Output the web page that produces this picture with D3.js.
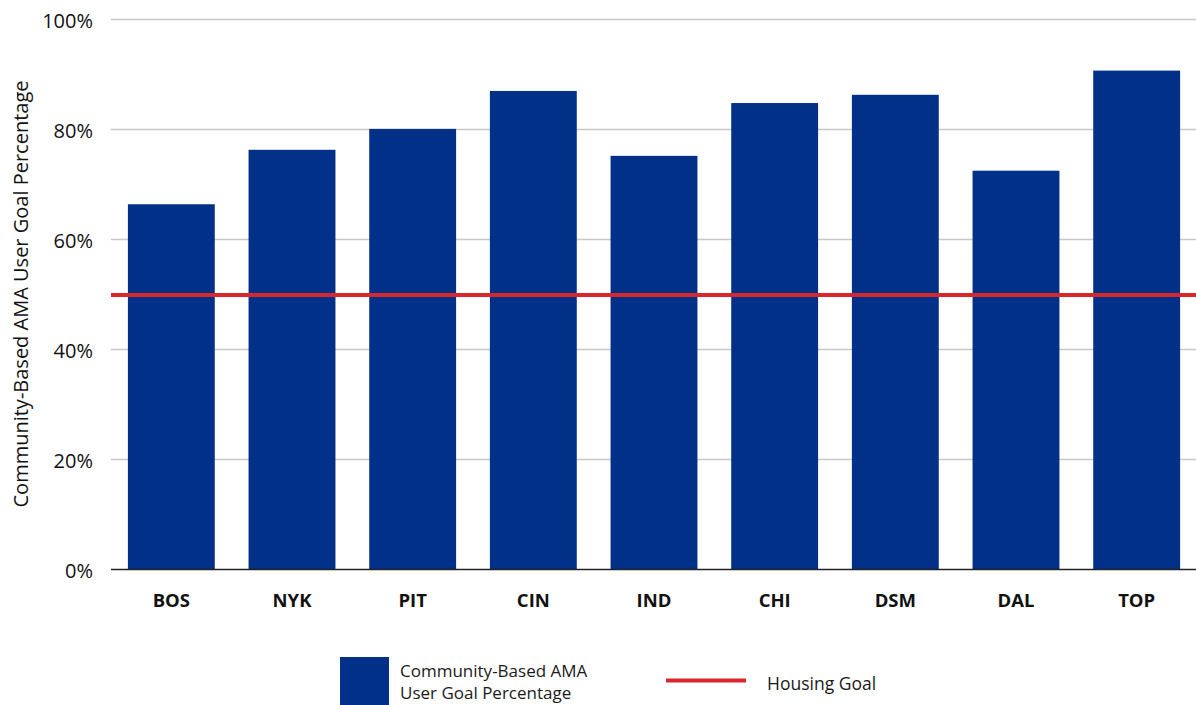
<!DOCTYPE html>
<html>
<head>
<meta charset="utf-8">
<script src="https://cdn.jsdelivr.net/npm/d3@7"></script>
<style>
  html, body { margin: 0; padding: 0; background: #ffffff; }
  svg { display: block; }
</style>
</head>
<body>
<svg id="chart" width="1196" height="705"></svg>
<script>
// Sites and their community-based AMA user goal percentages
const sites = ["BOS", "NYK", "PIT", "CIN", "IND", "CHI", "DSM", "DAL", "TOP"];
const goalPct = [66.5, 76.4, 80.2, 87.1, 75.3, 84.9, 86.4, 72.6, 90.8];
const housingGoal = 50;
const yTicks = [0, 20, 40, 60, 80, 100];
const seriesLabel = ["Community-Based AMA", "User Goal Percentage"];
const goalLabel = "Housing Goal";
const yTitle = "Community-Based AMA User Goal Percentage";

const barColor = "#003087";
const goalColor = "#d9272e";
const font = "'Open Sans', 'Noto Sans', sans-serif";

const svg = d3.select("#chart");
const plotLeft = 111, plotRight = 1196, plotTop = 20, plotBottom = 570;

const x = d3.scaleBand().domain(sites).range([plotLeft, 1197]).paddingInner(0.28).paddingOuter(0.14);
const y = d3.scaleLinear().domain([0, 100]).range([plotBottom, plotTop]);

// Horizontal gridlines
svg.append("g")
  .selectAll("line")
  .data(yTicks.filter(d => d > 0))
  .join("line")
  .attr("x1", plotLeft).attr("x2", plotRight)
  .attr("y1", d => y(d) - 0.5).attr("y2", d => y(d) - 0.5)
  .attr("stroke", "#c8c8c8").attr("stroke-width", 1.6);

// Y tick labels
const yAxis = d3.axisLeft(y).tickValues(yTicks).tickFormat(d => d + "%").tickSize(0).tickPadding(0);
const gy = svg.append("g").attr("transform", "translate(93,1.5)").call(yAxis);
gy.select(".domain").remove();
gy.selectAll("text")
  .attr("font-family", font).attr("font-size", 20).attr("fill", "#111");

// Bars
svg.append("g")
  .selectAll("rect")
  .data(sites.map((s, i) => ({ s, v: goalPct[i] })))
  .join("rect")
  .attr("x", d => x(d.s))
  .attr("width", x.bandwidth())
  .attr("y", d => y(d.v))
  .attr("height", d => y(0) - y(d.v))
  .attr("fill", barColor);

// Baseline axis with category labels
const xAxis = d3.axisBottom(x).tickSize(0).tickPadding(0);
const gx = svg.append("g").attr("transform", `translate(0,${plotBottom - 0.5})`).call(xAxis);
gx.select(".domain").attr("d", `M${plotLeft},0H${plotRight}`).attr("stroke", "#222").attr("stroke-width", 1.6);
gx.selectAll("text")
  .attr("dy", 0).attr("y", 37.5)
  .attr("font-family", font).attr("font-size", 18.5).attr("font-weight", "bold").attr("fill", "#111");

// Housing goal reference line
svg.append("line")
  .attr("x1", plotLeft).attr("x2", plotRight)
  .attr("y1", y(housingGoal)).attr("y2", y(housingGoal))
  .attr("stroke", goalColor).attr("stroke-width", 4);

// Y axis title
svg.append("text")
  .attr("transform", "translate(28,294) rotate(-90)")
  .attr("text-anchor", "middle")
  .attr("font-family", font).attr("font-size", 20).attr("fill", "#111")
  .text(yTitle);

// Legend
const lg = svg.append("g");
lg.append("rect").attr("x", 340).attr("y", 657).attr("width", 49).attr("height", 48).attr("fill", barColor);
lg.append("text")
  .attr("font-family", font).attr("font-size", 17).attr("fill", "#1a1a1a")
  .selectAll("tspan").data(seriesLabel).join("tspan")
  .attr("x", 400).attr("y", (d, i) => 677 + i * 22).text(d => d);
lg.append("line").attr("x1", 666).attr("x2", 746).attr("y1", 680.5).attr("y2", 680.5)
  .attr("stroke", goalColor).attr("stroke-width", 4);
lg.append("text").attr("x", 767).attr("y", 690)
  .attr("font-family", font).attr("font-size", 17.5).attr("fill", "#1a1a1a")
  .text(goalLabel);
</script>
</body>
</html>
